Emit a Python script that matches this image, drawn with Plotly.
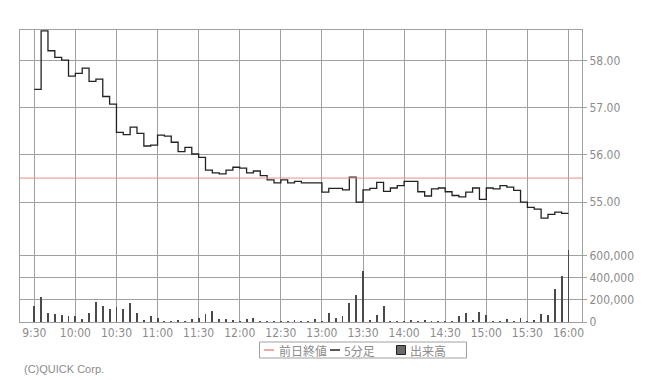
import plotly.graph_objects as go

DATE = "2024-01-02 "

# 5-minute bar start times (volume includes the 16:00 closing print)
times = [
    "09:30", "09:35", "09:40", "09:45", "09:50", "09:55",
    "10:00", "10:05", "10:10", "10:15", "10:20", "10:25", "10:30", "10:35", "10:40", "10:45", "10:50", "10:55",
    "11:00", "11:05", "11:10", "11:15", "11:20", "11:25", "11:30", "11:35", "11:40", "11:45", "11:50", "11:55",
    "12:00", "12:05", "12:10", "12:15", "12:20", "12:25", "12:30", "12:35", "12:40", "12:45", "12:50", "12:55",
    "13:00", "13:05", "13:10", "13:15", "13:20", "13:25", "13:30", "13:35", "13:40", "13:45", "13:50", "13:55",
    "14:00", "14:05", "14:10", "14:15", "14:20", "14:25", "14:30", "14:35", "14:40", "14:45", "14:50", "14:55",
    "15:00", "15:05", "15:10", "15:15", "15:20", "15:25", "15:30", "15:35", "15:40", "15:45", "15:50", "15:55",
    "16:00",
]

# 5分足 close (9:30 .. 15:55)
price = [
    57.39, 58.63, 58.21, 58.07, 58.01, 57.67,
    57.73, 57.84, 57.56, 57.61, 57.24, 57.08, 56.48, 56.43, 56.59, 56.46, 56.19, 56.21,
    56.42, 56.40, 56.27, 56.07, 56.16, 56.02, 55.95, 55.68, 55.62, 55.60, 55.68, 55.74,
    55.72, 55.62, 55.66, 55.56, 55.47, 55.41, 55.47, 55.41, 55.44, 55.41, 55.41, 55.41,
    55.21, 55.29, 55.29, 55.26, 55.53, 55.00, 55.26, 55.29, 55.42, 55.23, 55.30, 55.35,
    55.44, 55.44, 55.22, 55.13, 55.28, 55.30, 55.22, 55.14, 55.11, 55.21, 55.30, 55.06,
    55.30, 55.28, 55.35, 55.32, 55.25, 55.00, 54.89, 54.85, 54.66, 54.74, 54.79, 54.76,
]

# 出来高 (9:30 .. 16:00)
volume = [
    142000, 223000, 78000, 69000, 60000, 51000,
    57000, 24000, 78000, 181000, 142000, 115000, 133000, 115000, 169000, 78000, 15000, 51000,
    33000, 6000, 9000, 15000, 9000, 24000, 33000, 69000, 97000, 24000, 24000, 15000,
    3000, 24000, 33000, 9000, 3000, 9000, 3000, 2000, 18000, 9000, 2000, 24000,
    5000, 78000, 33000, 51000, 169000, 241000, 459000, 15000, 60000, 142000, 9000, 3000,
    3000, 15000, 9000, 15000, 9000, 3000, 3000, 3000, 51000, 78000, 15000, 87000,
    60000, 9000, 9000, 24000, 9000, 33000, 5000, 15000, 69000, 60000, 296000, 420000,
    652000,
]

prev_close = 55.51

price_ticks = [55, 56, 57, 58]
volume_ticks = [0, 200000, 400000, 600000]
x_ticks = ["09:30", "10:00", "10:30", "11:00", "11:30", "12:00", "12:30",
           "13:00", "13:30", "14:00", "14:30", "15:00", "15:30", "16:00"]
x_tick_labels = ["9:30", "10:00", "10:30", "11:00", "11:30", "12:00", "12:30",
                 "13:00", "13:30", "14:00", "14:30", "15:00", "15:30", "16:00"]

legend_names = ["前日終値", "5分足", "出来高"]
credit = "(C)QUICK Corp."

# ---------------------------------------------------------------
GRID = "#a0a0a0"
TXT = "#8c8c8c"
NARROW = "Liberation Sans Narrow, Arial Narrow, DejaVu Sans Condensed, Liberation Sans, sans-serif"
CJK = "Noto Sans CJK JP, sans-serif"

x_all = [DATE + t for t in times]
x_price = x_all[:len(price)] + [x_all[len(price)]]
y_price = price + [price[-1]]

fig = go.Figure()
fig.add_trace(go.Bar(
    x=x_all, y=volume, yaxis="y2", width=40000,
    marker=dict(color="#4a4a4a", line=dict(width=0)),
    name=legend_names[2], showlegend=False,
))
fig.add_trace(go.Scatter(
    x=x_price, y=y_price, mode="lines", line=dict(shape="hv", color="#222222", width=1.3),
    name=legend_names[1], showlegend=False,
))

W, H = 655, 380
L, R, T, B = 20, 73, 30, 58
pw, ph = W - L - R, H - T - B


def px(x):
    return (x - L) / pw


def py(y):
    return (H - B - y) / ph


shapes = [
    dict(type="line", xref="paper", x0=0, x1=1, yref="y", y0=prev_close, y1=prev_close,
         line=dict(color="#f08a8a", width=1)),
    # legend box
    dict(type="rect", xref="paper", yref="paper", x0=px(259.5), x1=px(466.5), y0=py(358), y1=py(342),
         line=dict(color="#a0a0a0", width=1), fillcolor="white"),
    dict(type="line", xref="paper", yref="paper", x0=px(264), x1=px(274), y0=py(350), y1=py(350),
         line=dict(color="#f08a8a", width=1.5)),
    dict(type="line", xref="paper", yref="paper", x0=px(330), x1=px(340), y0=py(350), y1=py(350),
         line=dict(color="#222222", width=1.5)),
    dict(type="rect", xref="paper", yref="paper", x0=px(396.5), x1=px(405.5), y0=py(354.5), y1=py(345.5),
         line=dict(color="#222222", width=1), fillcolor="#6a6a6a"),
]

annotations = [
    dict(xref="paper", yref="paper", x=px(277), y=py(350.5), text=legend_names[0], showarrow=False,
         xanchor="left", yanchor="middle", font=dict(family=CJK, size=12, color=TXT)),
    dict(xref="paper", yref="paper", x=px(342), y=py(350.5), text=legend_names[1], showarrow=False,
         xanchor="left", yanchor="middle", font=dict(family=CJK, size=12, color=TXT)),
    dict(xref="paper", yref="paper", x=px(408), y=py(350.5), text=legend_names[2], showarrow=False,
         xanchor="left", yanchor="middle", font=dict(family=CJK, size=12, color=TXT)),
    dict(xref="paper", yref="paper", x=px(22), y=py(369), text=credit, showarrow=False,
         xanchor="left", yanchor="middle", font=dict(family="Liberation Sans, Arial, sans-serif", size=11, color=TXT)),
]

fig.update_layout(
    width=W, height=H,
    margin=dict(l=L, r=R, t=T, b=B, pad=0),
    paper_bgcolor="white", plot_bgcolor="white",
    showlegend=False,
    bargap=0,
    shapes=shapes,
    annotations=annotations,
    xaxis=dict(
        type="date",
        range=[DATE + "09:19:35", DATE + "16:09:52"],
        tickvals=[DATE + t for t in x_ticks], ticktext=x_tick_labels,
        showgrid=True, gridcolor=GRID, gridwidth=1,
        showline=True, linecolor=GRID, linewidth=1, mirror=True,
        ticks="", zeroline=False,
        tickfont=dict(family=NARROW, size=12, color=TXT),
    ),
    yaxis=dict(
        range=[52.458, 58.650], side="right",
        tickvals=price_ticks, tickformat=".2f",
        showgrid=True, gridcolor=GRID, gridwidth=1,
        showline=True, linecolor=GRID, linewidth=1, mirror=True,
        ticks="outside", ticklen=4, tickcolor=GRID, zeroline=False,
        tickfont=dict(family=NARROW, size=12, color=TXT),
    ),
    yaxis2=dict(
        range=[0, 2645000], side="right", overlaying="y",
        tickvals=volume_ticks, tickformat=",d",
        showgrid=True, gridcolor=GRID, gridwidth=1,
        showline=False, ticks="outside", ticklen=4, tickcolor=GRID, zeroline=False,
        tickfont=dict(family=NARROW, size=12, color=TXT),
    ),
)

fig.write_html("out.html")
